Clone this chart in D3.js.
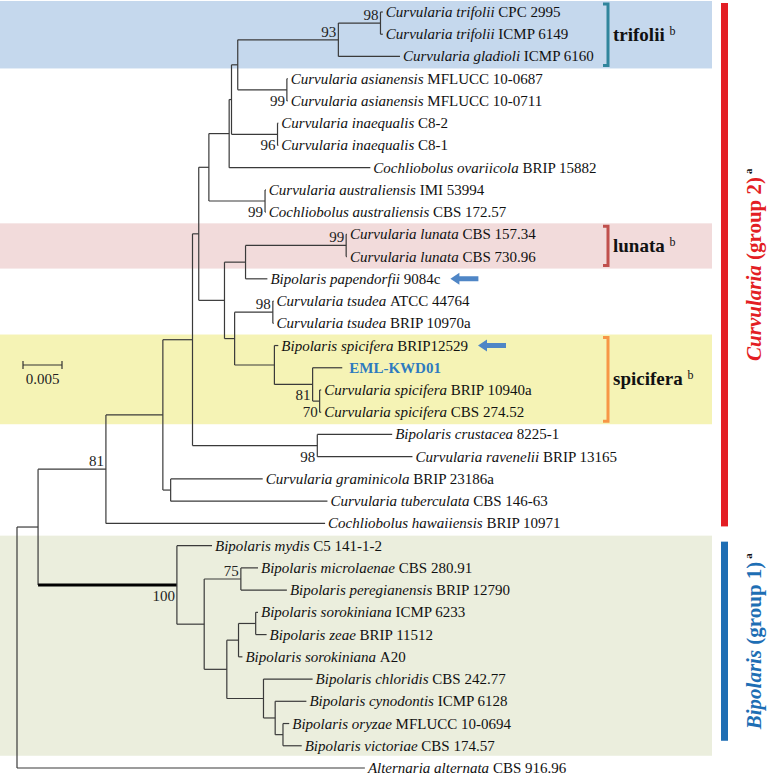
<!DOCTYPE html>
<html>
<head>
<meta charset="utf-8">
<script src="https://cdn.jsdelivr.net/npm/d3@7"></script>
<style>
  body { margin: 0; background: #fff; }
  svg { display: block; font-family: "Liberation Serif", "Times New Roman", serif; }
</style>
</head>
<body>
<svg id="sketch"></svg>
<script>
// tree: id, parent, branch length (subst/site), taxon name, strain
var tree = [
  ["root", "", 0],
  ["L", "root", 0.0027],
  ["M", "L", 0.0087],
  ["O", "M", 0.0073],
  ["P", "O", 0.0038],
  ["E", "P", 0.0008],
  ["D", "E", 0.0013],
  ["C", "D", 0.0026],
  ["B", "C", 0.0003],
  ["A", "B", 0.0008],
  ["n93", "A", 0.0129],
  ["n98a", "n93", 0.0054],
  ["t1", "n98a", 0.0003, "Curvularia trifolii", "CPC 2995"],
  ["t2", "n98a", 0.0003, "Curvularia trifolii", "ICMP 6149"],
  ["t3", "n93", 0.0079, "Curvularia gladioli", "ICMP 6160"],
  ["n99a", "A", 0.0063],
  ["t4", "n99a", 0.0001, "Curvularia asianensis", "MFLUCC 10-0687"],
  ["t5", "n99a", 0.0001, "Curvularia asianensis", "MFLUCC 10-0711"],
  ["n96", "B", 0.0059],
  ["t6", "n96", 0.0001, "Curvularia inaequalis", "C8-2"],
  ["t7", "n96", 0.0001, "Curvularia inaequalis", "C8-1"],
  ["t8", "C", 0.0181, "Cochliobolus ovariicola", "BRIP 15882"],
  ["n99b", "D", 0.0072],
  ["t9", "n99b", 0.0001, "Curvularia australiensis", "IMI 53994"],
  ["t10", "n99b", 0.0001, "Cochliobolus australiensis", "CBS 172.57"],
  ["F", "E", 0.0033],
  ["G", "F", 0.0027],
  ["n99c", "G", 0.0129],
  ["t11", "n99c", 0.0001, "Curvularia lunata", "CBS 157.34"],
  ["t12", "n99c", 0.0001, "Curvularia lunata", "CBS 730.96"],
  ["t13", "G", 0.0028, "Bipolaris papendorfii", "9084c"],
  ["H", "F", 0.0013],
  ["n98b", "H", 0.0049],
  ["t14", "n98b", 0.0001, "Curvularia tsudea", "ATCC 44764"],
  ["t15", "n98b", 0.0001, "Curvularia tsudea", "BRIP 10970a"],
  ["I", "H", 0.0051],
  ["t16", "I", 0.0005, "Bipolaris spicifera", "BRIP12529"],
  ["J", "I", 0.0049],
  ["t17", "J", 0.0038, "", "EML-KWD01"],
  ["K", "J", 0.0009],
  ["t18", "K", 0.0002, "Curvularia spicifera", "BRIP 10940a"],
  ["t19", "K", 0.0002, "Curvularia spicifera", "CBS 274.52"],
  ["R", "P", 0.0160],
  ["t20", "R", 0.0096, "Bipolaris crustacea", "8225-1"],
  ["t21", "R", 0.0122, "Curvularia ravenelii", "BRIP 13165"],
  ["Q", "O", 0.0010],
  ["t22", "Q", 0.0118, "Curvularia graminicola", "BRIP 23186a"],
  ["t23", "Q", 0.0201, "Curvularia tuberculata", "CBS 146-63"],
  ["t24", "M", 0.0281, "Cochliobolus hawaiiensis", "BRIP 10971"],
  ["N", "L", 0.0178],
  ["t25", "N", 0.0045, "Bipolaris mydis", "C5 141-1-2"],
  ["S", "N", 0.0035],
  ["T", "S", 0.0047],
  ["t26", "T", 0.0022, "Bipolaris microlaenae", "CBS 280.91"],
  ["t27", "T", 0.0059, "Bipolaris peregianensis", "BRIP 12790"],
  ["U", "S", 0.0029],
  ["V", "U", 0.0015],
  ["X", "V", 0.0022],
  ["t28", "X", 0.0003, "Bipolaris sorokiniana", "ICMP 6233"],
  ["t29", "X", 0.0014, "Bipolaris zeae", "BRIP 11512"],
  ["t30", "V", 0.0005, "Bipolaris sorokiniana", "A20"],
  ["W", "U", 0.0047],
  ["t31", "W", 0.0063, "Bipolaris chloridis", "CBS 242.77"],
  ["Y", "W", 0.0015],
  ["t32", "Y", 0.0040, "Bipolaris cynodontis", "ICMP 6128"],
  ["Z", "Y", 0.0010],
  ["t33", "Z", 0.0008, "Bipolaris oryzae", "MFLUCC 10-0694"],
  ["t34", "Z", 0.0024, "Bipolaris victoriae", "CBS 174.57"],
  ["t35", "root", 0.0446, "Alternaria alternata", "CBS 916.96"]
];

// bootstrap values: node, value, label above/below the branch
var bootNodes = ["n98a", "n93", "n99a", "n96", "n99b", "n99c", "n98b", "J", "K", "R", "M", "N", "T"];
var bootValues = [98, 93, 99, 96, 99, 99, 98, 81, 70, 98, 81, 100, 75];
var bootSide = ["up", "up", "down", "down", "down", "up", "up", "down", "down", "down", "up", "down", "up"];

// highlighted clades: first leaf, last leaf, colour, bracket label
var cladeNames = ["trifolii", "lunata", "spicifera"];
var cladeFrom = ["t1", "t11", "t16"];
var cladeTo = ["t3", "t12", "t19"];
var cladeFill = ["#c5d8ed", "#f2dbdb", "#f5f3b5"];
var cladeBracket = ["#31859c", "#c0504d", "#f79646"];

// genus groups on the right
var groupGenus = ["Curvularia", "Bipolaris"];
var groupText = [" (group 2)", " (group 1)"];
var groupFrom = ["t1", "t25"];
var groupTo = ["t24", "t34"];
var groupColor = ["#e31e24", "#1e6eb4"];

var arrowLeaves = ["t13", "t16"];
var scaleBarValue = 0.005;

var W = 768, H = 775;
var svg = d3.select("#sketch").attr("width", W).attr("height", H);

var root = d3.stratify()
  .id(function(d) { return d[0]; })
  .parentId(function(d) { return d[1] || null; })(tree);

root.eachBefore(function(n) {
  n.dist = n.parent ? n.parent.dist + n.data[2] : 0;
});

var leaves = root.leaves();
var x = d3.scaleLinear().domain([0, scaleBarValue]).range([17, 56]);
var y = d3.scalePoint().domain(leaves.map(function(d) { return d.id; })).range([12, 768]);

root.eachAfter(function(n) {
  n.px = x(n.dist);
  if (n.children) {
    n.py = (n.children[0].py + n.children[n.children.length - 1].py) / 2;
  } else {
    n.py = y(n.id);
  }
});
var byId = {};
root.each(function(n) { byId[n.id] = n; });

// background bands
var bands = svg.append('g');
cladeNames.forEach(function(c, i) {
  var top = Math.max(0, y(cladeFrom[i]) - 11);
  var bot = y(cladeTo[i]) + 12;
  bands.append('rect')
    .attr('x', 0).attr('y', top)
    .attr('width', 712).attr('height', bot - top)
    .attr('fill', cladeFill[i]);
});
bands.append('rect')
  .attr('x', 0).attr('y', y("t25") - 10)
  .attr('width', 712).attr('height', y("t34") - y("t25") + 20)
  .attr('fill', '#ebeedd');

// branches
var branches = svg.append('g')
  .attr('fill', 'none')
  .attr('stroke', '#3a3a3a')
  .attr('stroke-width', 1.2);

root.descendants().forEach(function(n) {
  if (n.parent) {
    branches.append('line')
      .attr('x1', n.parent.px).attr('x2', n.px)
      .attr('y1', n.py).attr('y2', n.py)
      .attr('stroke', n.id == "N" ? '#000' : null)
      .attr('stroke-width', n.id == "N" ? 3 : null);
  }
  if (n.children) {
    branches.append('line')
      .attr('x1', n.px).attr('x2', n.px)
      .attr('y1', n.children[0].py)
      .attr('y2', n.children[n.children.length - 1].py);
  }
});

// bootstrap labels
var boots = svg.append('g').style('font-size', '15px').attr('fill', '#222');
bootNodes.forEach(function(id, i) {
  var n = byId[id];
  boots.append('text')
    .attr('x', n.px - 2)
    .attr('y', bootSide[i] == "up" ? n.py - 3 : n.py + 16)
    .attr('text-anchor', 'end')
    .text(bootValues[i]);
});

// leaf labels
var labels = svg.append('g').style('font-size', '15px').attr('fill', '#111');
leaves.forEach(function(n) {
  var t = labels.append('text')
    .attr('x', n.px + 3)
    .attr('y', n.py + 5);
  if (n.data[3]) {
    t.append('tspan').style('font-style', 'italic').text(n.data[3]);
    t.append('tspan').text('\u00a0' + n.data[4]);
  } else {
    t.append('tspan').attr('x', n.px + 7)
      .style('font-weight', 'bold').attr('fill', '#2e7bbf').text(n.data[4]);
  }
  n.labelEnd = t.node().getComputedTextLength() + n.px + 3;
});

// arrows after the labels
arrowLeaves.forEach(function(id) {
  var n = byId[id];
  var ax = n.labelEnd + 10;
  var ay = n.py;
  svg.append('path')
    .attr('d', 'M' + ax + ',' + ay + 'l9,-6v3.5h19v5h-19v3.5z')
    .attr('fill', '#4f86c6');
});

// clade brackets
cladeNames.forEach(function(c, i) {
  var top = y(cladeFrom[i]) - 8;
  var bot = y(cladeTo[i]) + 9;
  var bx = 608;
  svg.append('path')
    .attr('d', 'M' + (bx - 5) + ',' + top + 'H' + bx + 'V' + bot + 'H' + (bx - 5))
    .attr('fill', 'none')
    .attr('stroke', cladeBracket[i])
    .attr('stroke-width', 3);
  var t = svg.append('text')
    .attr('x', 613)
    .attr('y', (top + bot) / 2 + 6)
    .style('font-size', '19px')
    .style('font-weight', 'bold')
    .attr('fill', '#111');
  t.append('tspan').text(c + '\u00a0');
  t.append('tspan').attr('dy', -6).style('font-size', '12px').style('font-weight', 'normal').text('b');
});

// genus group bars
groupGenus.forEach(function(g, i) {
  var top = i == 0 ? 3 : y(groupFrom[i]) - 4;
  var bot = i == 0 ? y(groupTo[i]) + 3 : y(groupTo[i]) - 5;
  svg.append('rect')
    .attr('x', 721).attr('y', top)
    .attr('width', 7).attr('height', bot - top)
    .attr('fill', groupColor[i]);
  var t = svg.append('text')
    .attr('transform', 'translate(761,' + ((top + bot) / 2) + ') rotate(-90)')
    .attr('text-anchor', 'middle')
    .style('font-size', '21px')
    .style('font-weight', 'bold')
    .attr('fill', groupColor[i]);
  t.append('tspan').style('font-style', 'italic').text(g);
  t.append('tspan').text(groupText[i]);
  t.append('tspan').attr('dy', -9).attr('dx', 3).style('font-size', '11px').attr('fill', '#111').text('a');
});

// scale bar
var sb = svg.append('g').attr('stroke', '#333').attr('stroke-width', 1.2);
sb.append('line').attr('x1', x(0) + 6).attr('x2', x(scaleBarValue) + 6).attr('y1', 365).attr('y2', 365);
sb.append('line').attr('x1', x(0) + 6).attr('x2', x(0) + 6).attr('y1', 361).attr('y2', 369);
sb.append('line').attr('x1', x(scaleBarValue) + 6).attr('x2', x(scaleBarValue) + 6).attr('y1', 361).attr('y2', 369);
svg.append('text')
  .attr('x', (x(0) + x(scaleBarValue)) / 2 + 6)
  .attr('y', 384)
  .attr('text-anchor', 'middle')
  .style('font-size', '15px')
  .attr('fill', '#222')
  .text(scaleBarValue);
</script>
</body>
</html>
